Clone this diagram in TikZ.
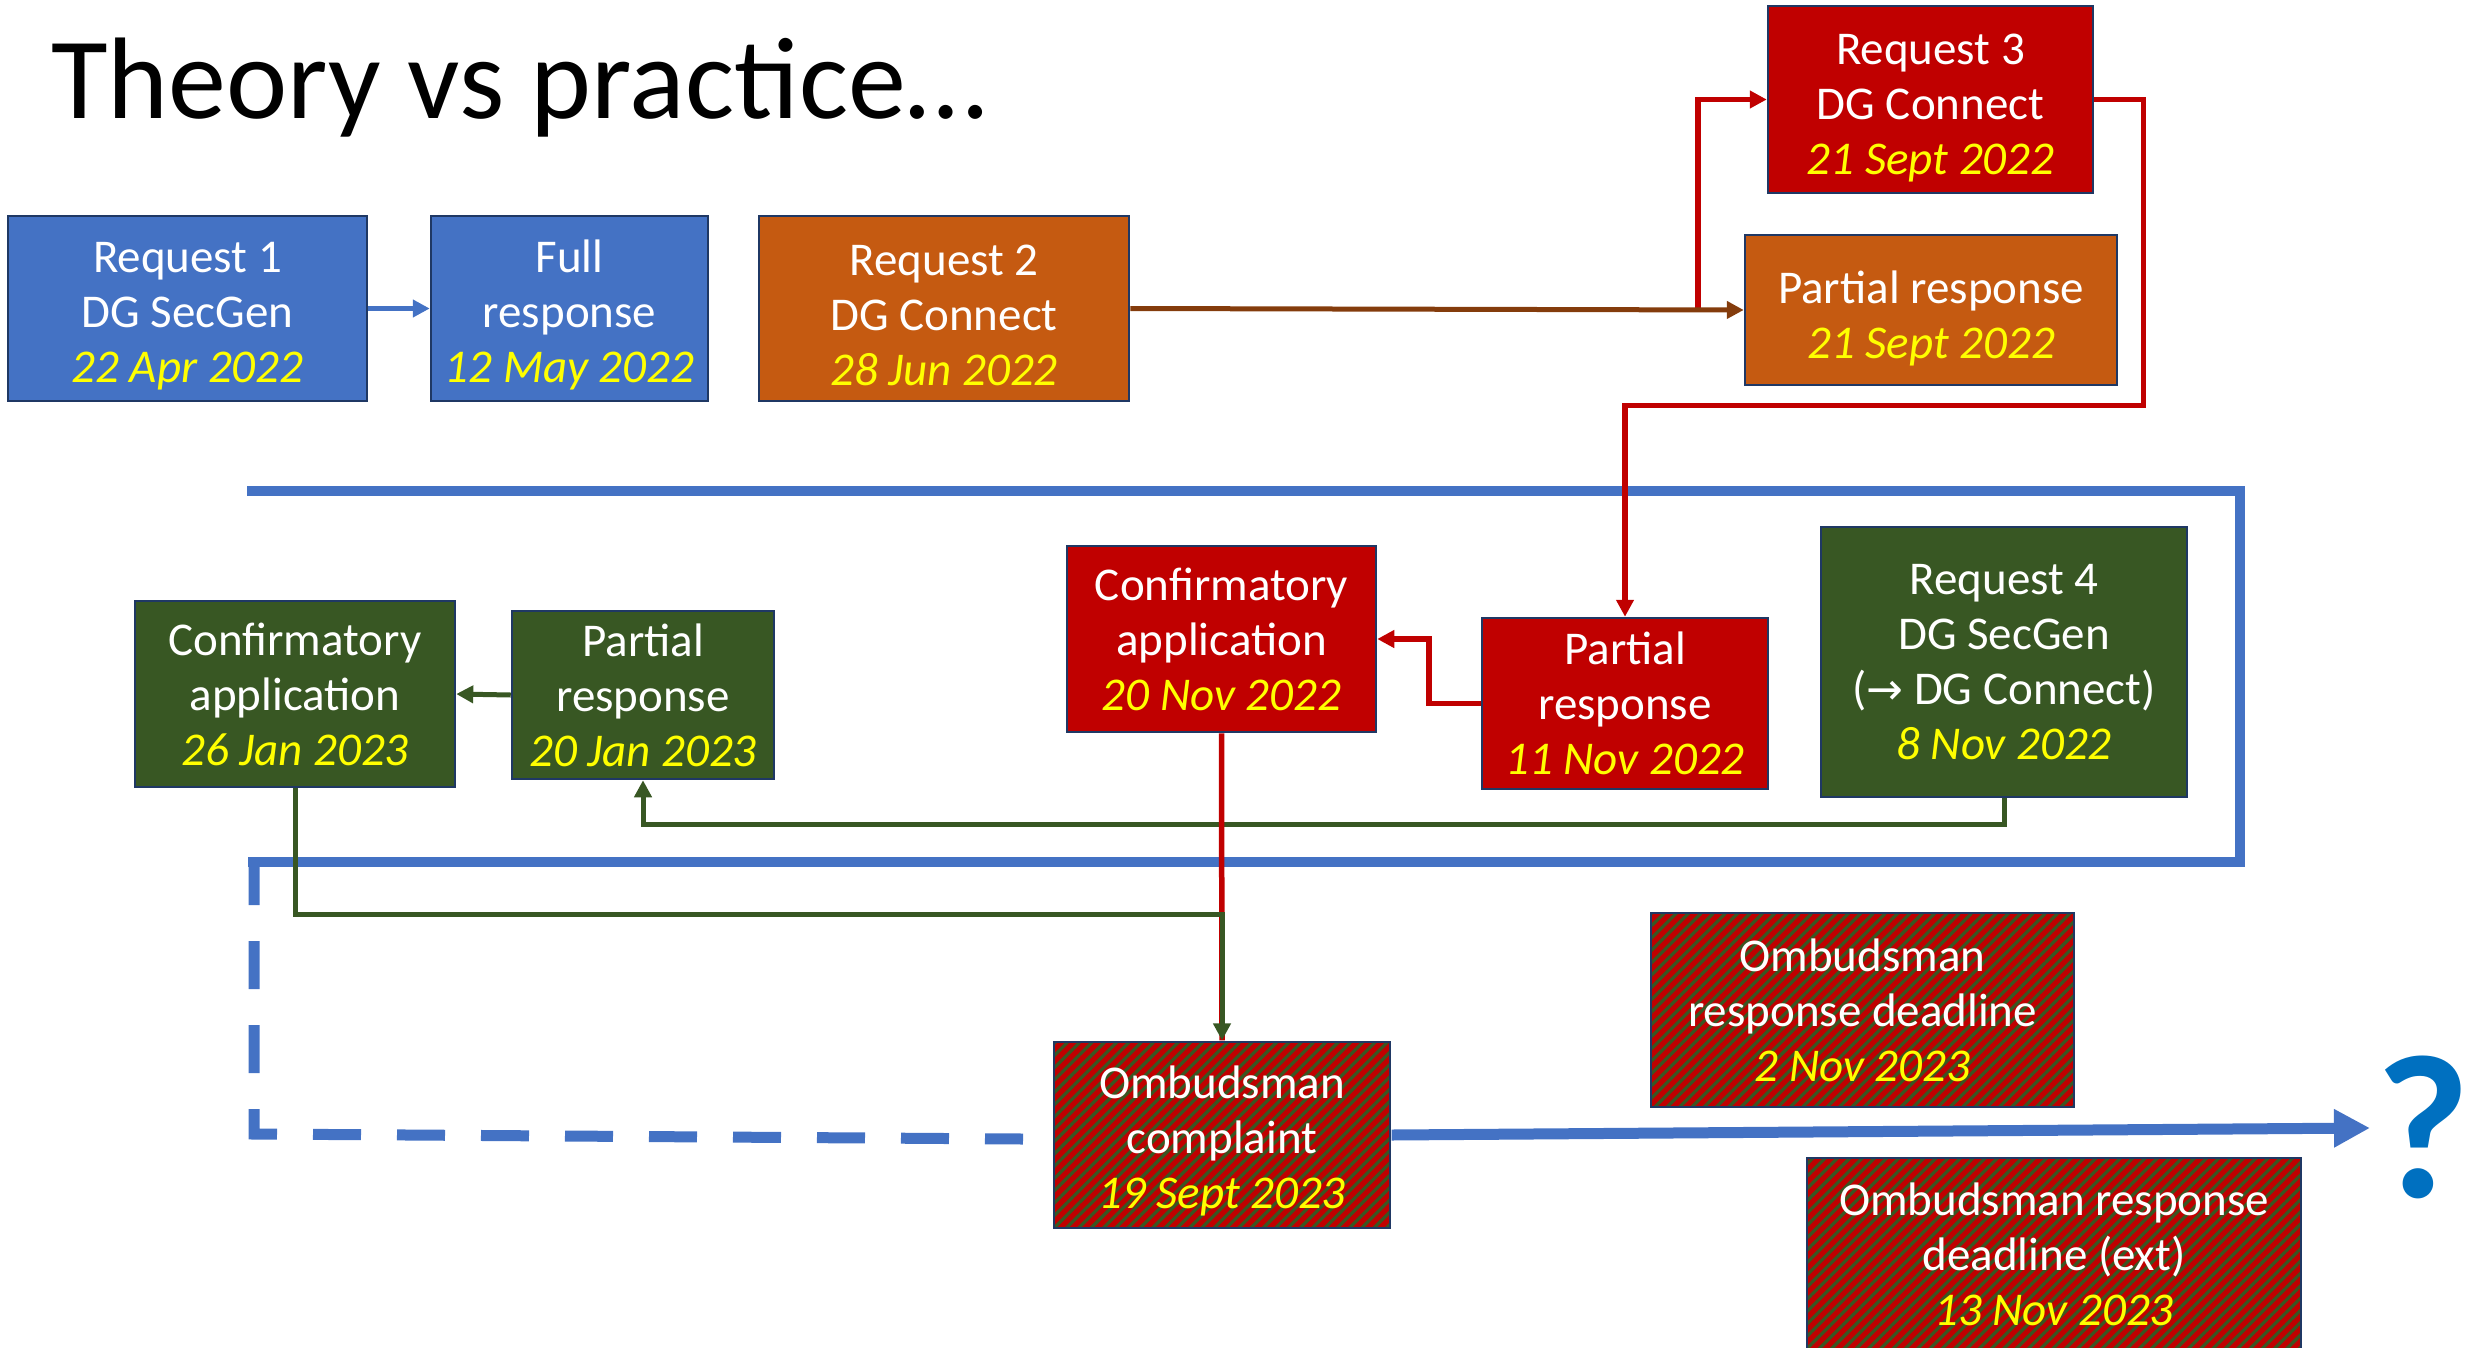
\documentclass[tikz,border=0pt]{standalone}
\usepackage{fontspec}
\setmainfont{Carlito}
\newfontfamily\dejavu{DejaVu Sans}
\usetikzlibrary{arrows.meta,patterns.meta}
\definecolor{cblue}{HTML}{4472C4}
\definecolor{corange}{HTML}{C55A11}
\definecolor{cred}{HTML}{C00000}
\definecolor{cgreen}{HTML}{385723}
\definecolor{cnavy}{HTML}{1F3864}
\definecolor{cbrown}{HTML}{843C0C}
\definecolor{cyel}{HTML}{FFFF00}
\definecolor{cq}{HTML}{0070C0}
\newcommand{\dt}[1]{{\itshape\color{cyel}#1}}
\newcommand{\st}[1]{\rule{0pt}{#1pt}}
\begin{document}
\begin{tikzpicture}[x=1pt,y=-1pt,
  box/.style={draw=cnavy, line width=2.5pt, align=center, text=white, inner sep=0pt,
    font=\fontsize{47}{55}\selectfont},
  bluebox/.style={box, fill=cblue},
  orangebox/.style={box, fill=corange},
  redbox/.style={box, fill=cred},
  greenbox/.style={box, fill=cgreen},
  hatchbox/.style={box, preaction={fill=cred},
    pattern={Lines[angle=45,distance=8.7pt,line width=3.2pt]}, pattern color=cgreen},
  arr/.style={-{Triangle[length=17pt,width=17pt]}},
  bluel/.style={cblue, line width=5pt},
  brownl/.style={cbrown, line width=5pt},
  redl/.style={cred, line width=5.5pt},
  greenl/.style={cgreen, line width=5pt},
  frame/.style={cblue, line width=10pt},
]
\useasboundingbox (0,0) rectangle (2468,1347);

% title
\node[anchor=base west, inner sep=0pt, font=\fontsize{116}{130}\selectfont] (title) at (51,118) {Theory vs practice…};

% blue frame (drawn first, below connectors)
\draw[frame] (247,491) -- (2240,491) -- (2240,862) -- (248,862);
\draw[frame, line width=11pt, dash pattern=on 48pt off 36pt] (254,857) -- (254,1134) -- (1023,1139);

% boxes
\node[bluebox, minimum width=359pt, minimum height=185pt] (r1) at (187.5,308.5) {\st{45}Request 1\\DG SecGen\\\dt{22 Apr 2022}};
\node[bluebox, minimum width=277pt, minimum height=185pt] (full) at (569.5,308.5) {\st{45}Full\\response\\\dt{12 May 2022}};
\node[orangebox, minimum width=370pt, minimum height=185pt] (r2) at (944,308.5) {\st{45}Request 2\\DG Connect\\\dt{28 Jun 2022}};
\node[redbox, minimum width=325pt, minimum height=187pt] (r3) at (1930.5,99.5) {\st{47}Request 3\\DG Connect\\\dt{21 Sept 2022}};
\node[orangebox, minimum width=372pt, minimum height=150pt] (pr1) at (1931,310) {\st{49}Partial response\\\dt{21 Sept 2022}};
\node[redbox, minimum width=309pt, minimum height=186pt] (ca1) at (1221.5,639) {Confirmatory\\application\\\dt{20 Nov 2022}};
\node[redbox, minimum width=286pt, minimum height=171pt] (pr2) at (1625,703.5) {Partial\\response\\\dt{11 Nov 2022}};
\node[greenbox, minimum width=366pt, minimum height=270pt] (r4) at (2004,662) {Request 4\\DG SecGen\\({\dejavu\fontsize{44}{55}\selectfont →} DG Connect)\\\dt{8 Nov 2022}};
\node[greenbox, minimum width=320pt, minimum height=186pt] (ca2) at (295,694) {Confirmatory\\application\\\dt{26 Jan 2023}};
\node[greenbox, minimum width=262pt, minimum height=168pt] (pr3) at (643,695) {Partial\\response\\\dt{20 Jan 2023}};
\node[hatchbox, minimum width=336pt, minimum height=186pt] (oc) at (1222,1135) {\st{45}Ombudsman\\complaint\\\dt{19 Sept 2023}};
\node[hatchbox, minimum width=423pt, minimum height=194pt] (od) at (1862.5,1010) {Ombudsman\\response deadline\\\dt{2 Nov 2023}};
\node[hatchbox, minimum width=494pt, minimum height=192pt] (odx) at (2054,1254) {Ombudsman response\\deadline (ext)\\\dt{13 Nov 2023}};

% question mark
\node[text=cq, inner sep=0pt, anchor=base, font=\fontsize{205}{205}\selectfont\bfseries] (q) at (2423,1197) {?};

% connectors
\draw[bluel, arr] (r1.east) -- (full.west);
\coordinate (b3) at (1698,310);
\draw[redl, arr] (b3) |- (r3.west);
\draw[brownl, arr] (r2.east) -- (pr1.west);
\draw[redl, arr] (r3.east) -- ++(49,0) -- ++(0,306) -| (pr2.north);
\draw[redl, arr] (pr2.west) -- ++(-52,0) |- (ca1.east);
\draw[greenl, arr] (r4.south) -- ++(0,26) -| (pr3.south);
\draw[greenl, arr] (pr3.west) -- (ca2.east);
\draw[redl] (ca1.south) -- (oc.north);
\draw[greenl, arr] (ca2.south) -- ++(0,126) -| (oc.north);

% big arrow to question mark
\coordinate (qend) at (2370,1128);
\draw[cblue, line width=11pt, -{Triangle[length=36pt,width=36pt]}] (oc.east) -- (qend);
\end{tikzpicture}
\end{document}
